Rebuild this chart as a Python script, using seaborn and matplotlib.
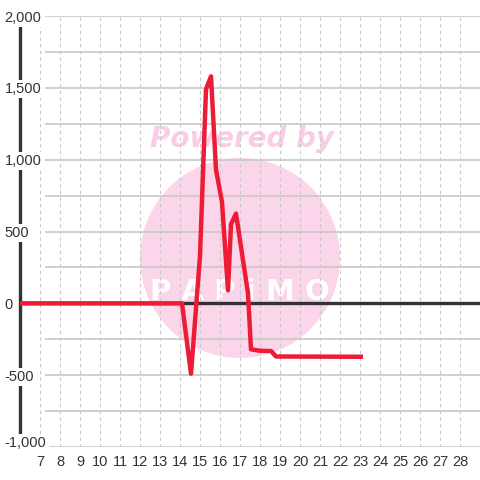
import matplotlib
matplotlib.use('Agg')
import matplotlib.pyplot as plt
import seaborn as sns
import pandas as pd
from matplotlib.patches import Circle

# series
hours = [6, 14.1, 14.55, 15.0, 15.3, 15.55, 15.8, 16.1, 16.4, 16.55, 16.8, 17.4, 17.55, 18.0, 18.55, 18.8, 23.15]
values = [0, 0, -490, 330, 1490, 1580, 930, 705, 90, 550, 625, 70, -320, -330, -332, -370, -372]

x_ticks = list(range(7, 29))
y_ticks = [-1000, -500, 0, 500, 1000, 1500, 2000]
y_labels = ['-1,000', '-500', '0', '500', '1,000', '1,500', '2,000']
y_grid = list(range(-1000, 2001, 250))

sns.set_style('white')
plt.rcParams['font.family'] = ['Liberation Sans', 'DejaVu Sans']

df = pd.DataFrame({'hour': hours, 'value': values})

fig = plt.figure(figsize=(4.8, 4.8), dpi=100)
ax = fig.add_axes([20 / 480, 33 / 480, 460 / 480, 431 / 480])

# watermark
ax.add_patch(Circle((240 / 480, 222 / 480), 100 / 480, transform=fig.transFigure,
                    facecolor='#FBD5EA', edgecolor='none', zorder=0.1))
ax.text(242 / 480, (480 - 147) / 480, 'Powered by', transform=fig.transFigure,
        ha='center', va='baseline', fontsize=20, fontweight='bold', style='italic',
        family='DejaVu Sans', color='#FBCDE5', zorder=0.2)
ax.text(240 / 480, (480 - 300) / 480, 'P A P i M O', transform=fig.transFigure,
        ha='center', va='baseline', fontsize=21, fontweight='bold', family='DejaVu Sans',
        color='white', zorder=0.2)

sns.lineplot(data=df, x='hour', y='value', ax=ax, color='#ED1C36', linewidth=3.2,
             estimator=None, sort=False, zorder=3, solid_joinstyle='round',
             solid_capstyle='butt')

ax.set_xlim(6, 29)
ax.set_ylim(-1000, 2000)

# grid
ax.set_axisbelow(True)
ax.set_xticks(x_ticks)
ax.grid(axis='x', color='#C8C8C8', linestyle=(0, (3, 3)), linewidth=0.8)
ax.hlines(y_grid, 7.25, 29, color='#C8C8C8', linewidth=1.2, zorder=0.4)
ax.axhline(0, color='#333333', linewidth=2.4, zorder=1)

for side in ['top', 'right', 'bottom']:
    ax.spines[side].set_visible(False)
ax.spines['left'].set_color('#333333')
ax.spines['left'].set_linewidth(2.4)
ax.spines['left'].set_zorder(0.3)

ax.set_yticks(y_ticks)
ax.set_yticklabels(y_labels)
ax.tick_params(axis='y', length=0, pad=11, labelsize=10.5, labelcolor='#333333')
ax.tick_params(axis='x', length=0, pad=6, labelsize=10.5, labelcolor='#333333')
for lab in ax.get_yticklabels():
    lab.set_horizontalalignment('left')
    lab.set_bbox(dict(facecolor='white', edgecolor='none', pad=1.5))
    if lab.get_text() == '-1,000':
        lab.set_verticalalignment('baseline')

ax.set_xlabel('')
ax.set_ylabel('')

fig.savefig('out.png', dpi=100)
